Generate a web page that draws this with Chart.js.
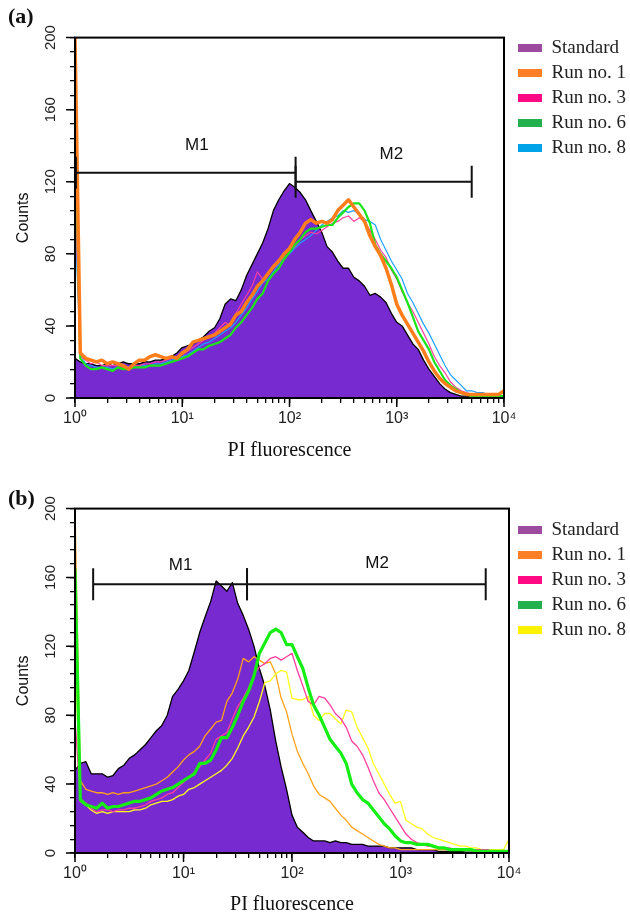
<!DOCTYPE html>
<html>
<head>
<meta charset="utf-8">
<title>PI fluorescence histograms</title>
<script src="https://cdn.jsdelivr.net/npm/chart.js@4.4.1/dist/chart.umd.min.js"></script>
<style>
  body { margin: 0; background: #fff; }
  canvas { position: absolute; left: 0; }
</style>
</head>
<body>
<canvas id="chartA" width="630" height="458" style="top:0"></canvas>
<canvas id="chartB" width="630" height="458" style="top:458px"></canvas>
<script>
// fluorescence channels (20 per decade, 10^0 .. 10^4)
const channels = [1, 1.12, 1.26, 1.41, 1.58, 1.78, 2.0, 2.24, 2.51, 2.82,
  3.16, 3.55, 3.98, 4.47, 5.01, 5.62, 6.31, 7.08, 7.94, 8.91,
  10, 11.2, 12.6, 14.1, 15.8, 17.8, 20.0, 22.4, 25.1, 28.2,
  31.6, 35.5, 39.8, 44.7, 50.1, 56.2, 63.1, 70.8, 79.4, 89.1,
  100, 112, 126, 141, 158, 178, 200, 224, 251, 282,
  316, 355, 398, 447, 501, 562, 631, 708, 794, 891,
  1000, 1122, 1259, 1413, 1585, 1778, 1995, 2239, 2512, 2818,
  3162, 3548, 3981, 4467, 5012, 5623, 6310, 7079, 7943, 8913, 10000];

const seriesNames = ['Standard', 'Run no. 1', 'Run no. 3', 'Run no. 6', 'Run no. 8'];

// panel (a) counts
const standardA = [22,20,19,19,18,18,19,18,19,20, 19,19,19,20,20,21,21,22,23,25,
  28,29,30,32,34,37,39,44,52,55, 54,60,68,74,80,86,94,104,110,115,
  119,117,114,110,104,98,92,84,81,76, 72,72,67,65,62,57,58,56,53,47,
  42,40,35,30,27,21,16,12,8,5, 3,2,1,1,0.5,0.5,0.5,0,0,0, 0];
const runOneA = [200,25,22,21,20,21,19,20,19,18, 16,19,21,21,23,24,23,22,23,22,
  25,27,31,32,33,34,35,37,39,41, 46,48,53,57,62,65,69,73,76,80,
  83,88,92,97,99,97,98,97,99,104, 107,110,106,102,98,90,84,79,72,63,
  52,46,41,36,31,26,20,15,11,8, 6,4,3,2,2,2,2,2,2,2, 4];
const runThreeA = [120,23,21,19,20,18,18,18,18,17, 17,18,18,19,19,20,20,21,22,23,
  24,26,28,30,32,34,36,39,42,40, 47,52,57,62,70,66,68,72,75,79,
  82,84,88,90,92,91,93,95,97,98, 100,101,98,100,98,93,88,82,78,71,
  66,59,53,48,42,36,30,23,18,14, 9,6,4,3,2,1,1,1,1,1, 1];
const runSixA = [158,22,18,16,16,17,16,15,17,16, 16,17,17,17,18,18,18,19,20,21,
  22,23,25,27,27,29,30,31,33,35, 39,42,46,50,55,58,65,69,72,77,
  81,85,88,92,94,94,95,96,96,100, 103,106,108,108,104,97,85,80,76,72,
  67,60,53,45,37,32,27,20,15,10, 7,5,3,2,1,1,1,1,1,1, 1];
const runEightA = [100,24,19,18,17,17,17,16,17,18, 17,18,18,18,18,19,19,20,21,22,
  23,24,26,28,30,31,33,35,37,39, 42,46,50,55,59,64,66,70,74,78,
  80,83,86,88,90,93,96,98,100,101, 104,103,104,102,99,98,96,88,82,76,
  71,66,58,53,47,41,36,30,24,18, 13,10,7,4,4,3,3,2,1,1, 4];

// panel (b) counts
const standardB = [48,52,53,46,46,46,44,45,49,51, 55,57,60,63,67,71,74,80,91,95,
  100,106,117,128,137,146,158,155,152,157, 145,138,130,120,107,97,83,65,50,37,
  22,15,12,9,7,7,7,6,7,6, 6,5,5,5,4,4,4,4,3,3,
  3,3,3,2,2,2,2,1,1,1, 1,1,0.5,0.5,0.5,0,0,0,0,0, 0];
const runOneB = [200,42,37,36,35,35,34,35,34,35, 35,36,37,38,39,40,42,44,47,50,
  54,57,59,62,68,72,76,77,88,93, 101,113,111,114,112,110,111,104,90,82,
  69,59,52,46,39,34,32,30,26,22, 19,15,13,11,9,7,5,4,3,3,
  2,2,2,2,2,2,2,2,2,2, 2,2,2,2,2,1,1,1,1,1, 1];
const runThreeB = [78,31,29,26,24,25,25,24,25,25, 26,26,27,28,30,31,32,34,35,38,
  41,44,47,50,54,58,66,68,70,78, 85,90,96,104,108,110,113,114,112,114,
  116,106,97,88,86,91,90,86,81,78, 73,65,62,57,50,42,35,31,26,21,
  16,11,8,6,5,4,4,3,3,3, 2,2,2,2,2,2,2,1,1,1, 1];
const runSixB = [165,31,28,27,26,29,26,27,27,28, 29,30,30,31,32,34,36,37,38,40,
  42,44,46,52,52,54,60,67,67,73, 80,88,94,103,116,122,128,130,128,121,
  121,114,107,96,86,80,73,66,62,58, 52,40,35,31,29,25,21,17,14,10,
  7,6,6,5,5,5,4,3,3,2, 2,2,2,2,1,1,1,1,1,1, 1];
const runEightB = [118,30,28,25,23,24,23,24,24,24, 24,25,25,26,28,29,30,30,31,33,
  34,37,38,40,42,44,46,48,51,55, 61,68,73,79,88,99,100,104,106,105,
  90,89,89,91,80,77,81,81,78,75, 83,82,73,67,61,52,46,40,34,29,
  30,19,17,15,14,11,9,8,7,6, 5,4,4,3,3,2,2,2,2,2, 8];

// axis ticks
const xTickValues = [1,2,3,4,5,6,7,8,9, 10,20,30,40,50,60,70,80,90,
  100,200,300,400,500,600,700,800,900, 1000,2000,3000,4000,5000,6000,7000,8000,9000, 10000];
const decades = [1, 10, 100, 1000, 10000];
const decadeLabels = ['10\u2070', '10\u00b9', '10\u00b2', '10\u00b3', '10\u2074'];
const yLabelValues = [0, 40, 80, 120, 160, 200];

// marker gates (M1, M2)
const gatesA = [
  {name: 'M1', from: 1.02, to: 114, level: 125, labelX: 13.7, labelY: 140},
  {name: 'M2', from: 114, to: 5000, level: 120, labelX: 890, labelY: 135}
];
const gatesB = [
  {name: 'M1', from: 1.47, to: 38.5, level: 156, labelX: 9.4, labelY: 167},
  {name: 'M2', from: 38.5, to: 6100, level: 156, labelX: 608, labelY: 168}
];

const fontSans = "'Liberation Sans', Arial, sans-serif";
const fontNarrow = "'Liberation Sans Narrow', 'Liberation Sans', Arial, sans-serif";
const fontSerif = "'Liberation Serif', 'Times New Roman', serif";

const gatePlugin = {
  id: 'gates',
  afterDatasetsDraw(chart, args, opts) {
    const {ctx, scales: {x, y}} = chart;
    ctx.save();
    ctx.strokeStyle = '#111';
    ctx.fillStyle = '#111';
    ctx.lineWidth = 2;
    ctx.font = '17px ' + fontSans;
    ctx.textAlign = 'center';
    ctx.textBaseline = 'middle';
    opts.list.forEach(g => {
      const x0 = x.getPixelForValue(g.from);
      const x1 = x.getPixelForValue(g.to);
      const py = y.getPixelForValue(g.level);
      ctx.beginPath();
      ctx.moveTo(x0, py); ctx.lineTo(x1, py);
      ctx.moveTo(x0, py - 16); ctx.lineTo(x0, py + 16);
      ctx.moveTo(x1, py - 16); ctx.lineTo(x1, py + 16);
      ctx.stroke();
      ctx.fillText(g.name, x.getPixelForValue(g.labelX), y.getPixelForValue(g.labelY));
    });
    ctx.restore();
  }
};

const framePlugin = {
  id: 'frame',
  afterDraw(chart) {
    const {ctx, chartArea: a, scales} = chart;
    ctx.save();
    ctx.strokeStyle = '#000';
    ctx.lineWidth = 2;
    ctx.strokeRect(a.left, a.top, a.right - a.left, a.bottom - a.top);
    // longer marks on decades and labelled counts
    ctx.lineWidth = 1.5;
    ctx.beginPath();
    decades.forEach(v => {
      const px = scales.x.getPixelForValue(v);
      ctx.moveTo(px, a.bottom); ctx.lineTo(px, a.bottom + 9);
    });
    yLabelValues.forEach(v => {
      const py = scales.y.getPixelForValue(v);
      ctx.moveTo(a.left, py); ctx.lineTo(a.left - 9, py);
    });
    ctx.stroke();
    ctx.restore();
  }
};

function histogram(id, panel) {
  const datasets = panel.series.map((values, i) => ({
    label: seriesNames[i],
    data: values,
    borderColor: panel.lineColors[i],
    borderWidth: panel.lineWidths[i],
    backgroundColor: i === 0 ? '#772ad0' : panel.lineColors[i],
    fill: i === 0 ? 'origin' : false,
    order: panel.drawOrder[i],
    pointRadius: 0,
    tension: 0,
    borderJoinStyle: 'round'
  }));

  new Chart(id, {
    type: 'line',
    data: {labels: channels, datasets: datasets},
    plugins: [gatePlugin, framePlugin],
    options: {
      responsive: false,
      devicePixelRatio: 1,
      animation: false,
      events: [],
      layout: {padding: {left: 8, top: 0, right: 0, bottom: 0}},
      plugins: {
        tooltip: {enabled: false},
        gates: {list: panel.gates},
        title: {
          display: true,
          text: panel.tag,
          align: 'start',
          color: '#111',
          font: {family: fontSerif, size: 22, weight: 'bold', lineHeight: 0.8},
          padding: panel.titlePadding
        },
        legend: {
          position: 'right',
          align: 'start',
          maxWidth: panel.legendWidth,
          title: {display: true, text: '', font: {size: 10, lineHeight: 1}, padding: {top: panel.legendOffset, bottom: 0}},
          labels: {
            boxWidth: 24,
            boxHeight: 8,
            padding: 6,
            color: '#222',
            font: {family: fontSerif, size: 19, lineHeight: 1},
            sort: (a, b) => a.datasetIndex - b.datasetIndex,
            generateLabels: chart => Chart.defaults.plugins.legend.labels.generateLabels(chart).map(item =>
              Object.assign(item, {fillStyle: panel.legendColors[item.datasetIndex],
                strokeStyle: panel.legendColors[item.datasetIndex], lineWidth: 0}))
          }
        }
      },
      scales: {
        x: {
          type: 'logarithmic',
          min: 1,
          max: 10000,
          afterBuildTicks: s => { s.ticks = xTickValues.map(v => ({value: v})); },
          afterFit: s => { s.height = panel.axisHeight; },
          border: {display: false},
          grid: {drawOnChartArea: false, drawTicks: true, tickLength: 5, color: '#000', lineWidth: 1.3},
          ticks: {
            autoSkip: false,
            maxRotation: 0,
            padding: 6,
            color: '#222',
            font: {family: fontSans, size: 16},
            callback: v => { const i = decades.indexOf(v); return i >= 0 ? decadeLabels[i] : ''; }
          },
          title: {
            display: true,
            text: 'PI fluorescence',
            color: '#111',
            font: {family: fontSerif, size: 20, lineHeight: 0.7},
            padding: {top: 0, bottom: panel.xTitlePad}
          }
        },
        y: {
          min: 0,
          max: 200,
          afterFit: s => { s.width = 67; },
          border: {display: false},
          grid: {drawOnChartArea: false, drawTicks: true, tickLength: 5, color: '#000', lineWidth: 1.3},
          ticks: {
            stepSize: 8,
            autoSkip: false,
            minRotation: 90,
            maxRotation: 90,
            crossAlign: 'center',
            padding: 7,
            color: '#222',
            font: {family: fontNarrow, size: 15},
            callback: v => yLabelValues.includes(v) ? String(v) : ''
          },
          title: {
            display: true,
            text: 'Counts',
            color: '#111',
            font: {family: fontSans, size: 16},
            padding: {top: 6, bottom: 0}
          }
        },
        gap: {
          type: 'linear',
          position: 'right',
          display: true,
          afterFit: s => { s.width = panel.gap; },
          border: {display: false},
          grid: {display: false, drawTicks: false},
          ticks: {display: false}
        }
      }
    }
  });
}

histogram('chartA', {
  tag: '(a)',
  series: [standardA, runOneA, runThreeA, runSixA, runEightA],
  lineColors: ['#000000', '#ff7d1a', '#ff3fa0', '#19e619', '#1fa0ff'],
  lineWidths: [1.3, 3.5, 1.2, 2.2, 1.2],
  drawOrder: [5, 1, 3, 2, 4],
  legendColors: ['#9d4b9f', '#ff7f27', '#ff0a84', '#22b14c', '#00a2e8'],
  gates: gatesA,
  titlePadding: {top: 9, bottom: 11},
  legendOffset: 22.5,
  legendWidth: 118,
  gap: 8,
  axisHeight: 60,
  xTitlePad: 0
});

histogram('chartB', {
  tag: '(b)',
  series: [standardB, runOneB, runThreeB, runSixB, runEightB],
  lineColors: ['#000000', '#ffa31a', '#ff3d9e', '#14ee14', '#ffff1a'],
  lineWidths: [1.3, 1.3, 1.3, 3.2, 1.3],
  drawOrder: [5, 4, 2, 1, 3],
  legendColors: ['#9d4b9f', '#ff7f27', '#ff0a84', '#22b14c', '#fff200'],
  gates: gatesB,
  titlePadding: {top: 33, bottom: 0},
  legendOffset: 46.5,
  legendWidth: 118,
  gap: 3,
  axisHeight: 63,
  xTitlePad: 4
});
</script>
</body>
</html>
